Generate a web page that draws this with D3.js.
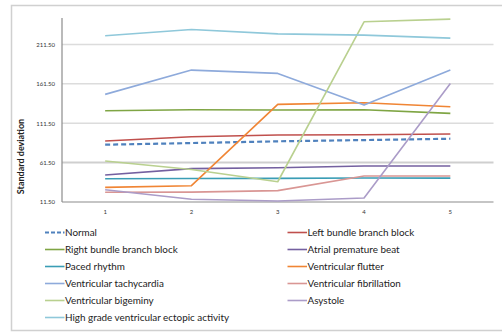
<!DOCTYPE html>
<html>
<head>
<meta charset="utf-8">
<script src="https://cdn.jsdelivr.net/npm/d3@7"></script>
<style>
  html, body { margin: 0; padding: 0; background: #fff; }
  svg { display: block; }
</style>
</head>
<body>
<svg id="chart" width="502" height="333"></svg>
<script>
// Measurement index along the x axis
const categories = [1, 2, 3, 4, 5];

// Standard deviation per rhythm class
const normal = [84.2, 86.3, 88.5, 90.1, 91.8];
const leftBundleBranchBlock = [88.9, 94.3, 96.5, 96.9, 97.7];
const rightBundleBranchBlock = [127.3, 128.6, 128.2, 128.6, 124.0];
const atrialPrematureBeat = [45.7, 53.8, 55.0, 57.2, 57.2];
const pacedRhythm = [41.0, 41.3, 41.5, 42.0, 41.8];
const ventricularFlutter = [30.1, 32.2, 135.4, 137.4, 132.4];
const ventricularTachycardia = [148.1, 178.9, 174.7, 134.5, 178.9];
const ventricularFibrillation = [23.8, 24.0, 25.9, 44.5, 44.5];
const ventricularBigeminy = [63.5, 52.7, 37.2, 240.2, 243.6];
const asystole = [27.1, 14.9, 12.8, 16.6, 162.0];
const highGradeVEA = [222.4, 230.5, 224.9, 223.3, 219.5];

const yTicks = [11.5, 61.5, 111.5, 161.5, 211.5];

const series = [
  { name: "Normal", values: normal, color: "#4f81bd", dash: "5,3", width: 2.2 },
  { name: "Left bundle branch block", values: leftBundleBranchBlock, color: "#c0504d" },
  { name: "Right bundle branch block", values: rightBundleBranchBlock, color: "#7fa544" },
  { name: "Atrial premature beat", values: atrialPrematureBeat, color: "#7460a0" },
  { name: "Paced rhythm", values: pacedRhythm, color: "#3a9db5" },
  { name: "Ventricular flutter", values: ventricularFlutter, color: "#f08534" },
  { name: "Ventricular tachycardia", values: ventricularTachycardia, color: "#8eaadb" },
  { name: "Ventricular fibrillation", values: ventricularFibrillation, color: "#d99694" },
  { name: "Ventricular bigeminy", values: ventricularBigeminy, color: "#b9d08f" },
  { name: "Asystole", values: asystole, color: "#ab9cc8" },
  { name: "High grade ventricular ectopic activity", values: highGradeVEA, color: "#8fc8da" }
];

const svg = d3.select("#chart");

// Outer chart frame (open on the right)
svg.append("path")
  .attr("d", "M 503 5.5 H 11.5 V 330.5 H 503")
  .attr("fill", "none")
  .attr("stroke", "#d0d0d0")
  .attr("stroke-width", 1.5);

const plot = { left: 62, right: 493.5, top: 18, bottom: 202 };

const x = d3.scaleBand()
  .domain(categories)
  .range([plot.left, plot.right]);

const y = d3.scaleLinear()
  .domain([11.5, 245])
  .range([plot.bottom, plot.top]);

// Horizontal gridlines
svg.append("g")
  .selectAll("line")
  .data(yTicks.slice(1))
  .join("line")
  .attr("x1", plot.left)
  .attr("x2", plot.right)
  .attr("y1", d => y(d))
  .attr("y2", d => y(d))
  .attr("stroke", d => d === 61.5 ? "#cfcfcf" : "#dcdcdc")
  .attr("stroke-width", d => d === 61.5 ? 2 : 1.5);

// Y axis
const yAxis = svg.append("g")
  .attr("transform", `translate(${plot.left},0)`)
  .call(d3.axisLeft(y).tickValues(yTicks).tickFormat(d3.format(".2f")).tickSize(0).tickPadding(7));
yAxis.select(".domain").attr("stroke", "#8c8c8c").attr("stroke-width", 1.2)
  .attr("d", `M0,${plot.top}V${plot.bottom}`);
yAxis.selectAll("text")
  .attr("font-family", "Lato, 'DejaVu Sans', sans-serif")
  .attr("font-size", 6)
  .attr("fill", "#333");

// X axis
const xAxis = svg.append("g")
  .attr("transform", `translate(0,${plot.bottom})`)
  .call(d3.axisBottom(x).tickSize(0).tickPadding(8));
xAxis.select(".domain").attr("stroke", "#8c8c8c").attr("stroke-width", 1.2)
  .attr("d", `M${plot.left},0H${plot.right}`);
xAxis.selectAll("text")
  .attr("font-family", "Lato, 'DejaVu Sans', sans-serif")
  .attr("font-size", 6)
  .attr("fill", "#333");

// Y axis title
svg.append("text")
  .attr("transform", "translate(24,156.5) rotate(-90)")
  .attr("text-anchor", "middle")
  .attr("font-family", "Lato, 'DejaVu Sans', sans-serif")
  .attr("font-weight", "bold")
  .attr("font-size", 9)
  .attr("fill", "#222")
  .text("Standard deviation");

// Series lines
const line = d3.line()
  .x((d, i) => x(categories[i]) + x.bandwidth() / 2)
  .y(d => y(d));

svg.append("g")
  .selectAll("path")
  .data(series)
  .join("path")
  .attr("d", s => line(s.values))
  .attr("fill", "none")
  .attr("stroke", s => s.color)
  .attr("stroke-width", s => s.width || 1.6)
  .attr("stroke-dasharray", s => s.dash || null)
  .attr("stroke-linejoin", "round");

// Legend in two columns
const legend = svg.append("g");
const colX = [45, 287.5];
const rowY0 = 232.5, rowStep = 17;
const items = legend.selectAll("g")
  .data(series)
  .join("g")
  .attr("transform", (s, i) => `translate(${colX[i % 2]},${rowY0 + Math.floor(i / 2) * rowStep})`);
items.append("line")
  .attr("x1", 0).attr("x2", 19.5)
  .attr("y1", 0).attr("y2", 0)
  .attr("stroke", s => s.color)
  .attr("stroke-width", s => s.width || 1.6)
  .attr("stroke-dasharray", s => s.dash ? "4,2" : null);
items.append("text")
  .attr("x", 20)
  .attr("y", 0)
  .attr("dy", "0.35em")
  .attr("font-family", "Lato, 'DejaVu Sans', sans-serif")
  .attr("font-size", 9.9)
  .attr("fill", "#222")
  .text(s => s.name);
</script>
</body>
</html>
